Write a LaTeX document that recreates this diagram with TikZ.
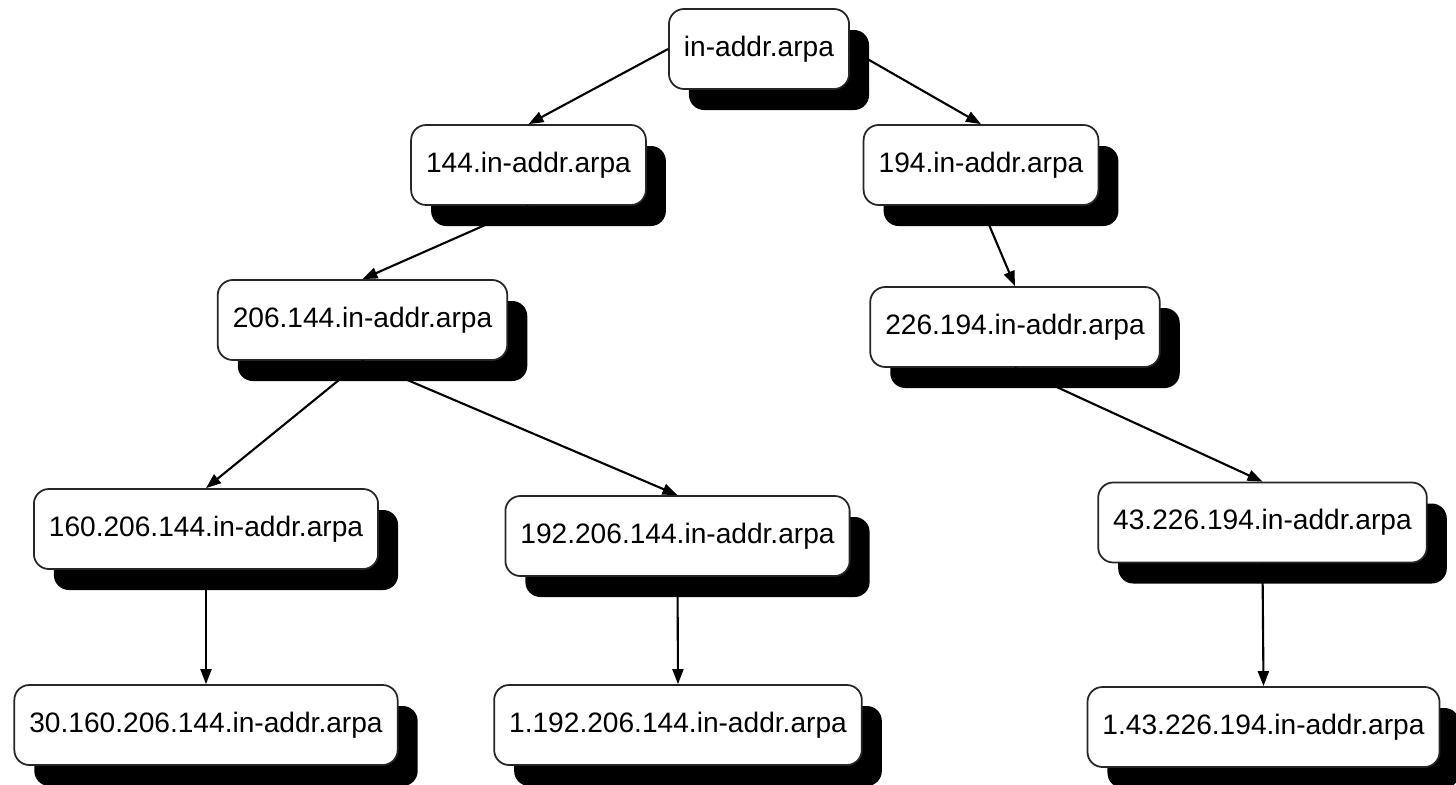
\documentclass[tikz,border=0pt]{standalone}
\usepackage{fontspec}
\setmainfont{Liberation Sans}
\usetikzlibrary{arrows.meta,shadows}

\begin{document}
\begin{tikzpicture}[every node/.style={font=\fontsize{16}{19}\selectfont},
  zone/.style={draw=black!85,line width=1pt,fill=white,rounded corners=0.3cm,
    minimum height=1.6cm,inner xsep=0.3cm,
    drop shadow={shadow xshift=0.4cm,shadow yshift=-0.42cm,fill=black,opacity=1}},
  >={Triangle[length=0.3cm,width=0.22cm]}, line width=1.2pt]
\useasboundingbox (0,0) rectangle (29.12,-15.7);
\node[zone] (root) at (15.18,-0.98) {in-addr.arpa};
\node[zone] (n144) at (10.57,-3.30) {144.in-addr.arpa};
\node[zone] (n194) at (19.62,-3.30) {194.in-addr.arpa};
\node[zone] (n206) at (7.25,-6.40) {206.144.in-addr.arpa};
\node[zone] (n226) at (20.30,-6.54) {226.194.in-addr.arpa};
\node[zone] (n160) at (4.12,-10.58) {160.206.144.in-addr.arpa};
\node[zone] (n192) at (13.55,-10.72) {192.206.144.in-addr.arpa};
\node[zone] (n43) at (25.25,-10.45) {43.226.194.in-addr.arpa};
\node[zone] (n30) at (4.12,-14.50) {30.160.206.144.in-addr.arpa};
\node[zone] (n1192) at (13.56,-14.50) {1.192.206.144.in-addr.arpa};
\node[zone] (n143) at (25.27,-14.54) {1.43.226.194.in-addr.arpa};
\draw[->] (root.west) -- (n144.north);
\draw[->] (root.east) -- (n194.north);
\draw[->] (n144.south) -- (n206.north);
\draw[->] (n194.south) -- (n226.north);
\draw[->] (n206.south) -- (n160.north);
\draw[->] (n206.south) -- (n192.north);
\draw[->] (n226.south) -- (n43.north);
\draw[->] (n160.south) -- (n30.north);
\draw[->] (n192.south) -- (n1192.north);
\draw[->] (n43.south) -- (n143.north);
\end{tikzpicture}
\end{document}
